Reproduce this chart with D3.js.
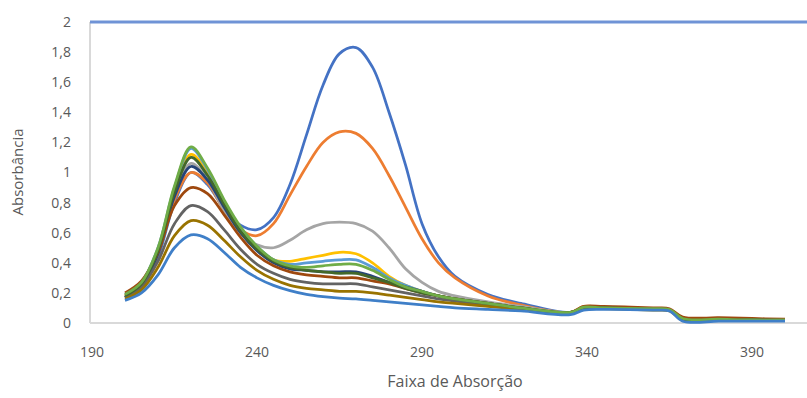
<!DOCTYPE html>
<html>
<head>
<meta charset="utf-8">
<script src="https://cdn.jsdelivr.net/npm/d3@7"></script>
<style>
  body { margin: 0; background: #fff; }
  svg { display: block; }
  text { font-family: "Open Sans", "Noto Sans", sans-serif; fill: #595959; }
</style>
</head>
<body>
<svg id="chart" width="807" height="398"></svg>
<script>
// wavelengths (nm) shared by all spectra
const wavelengths = [200, 205, 210, 215, 220, 225, 230, 235, 240, 245, 250, 255, 260, 265, 270, 275, 280, 285, 290, 295, 300, 310, 320, 335, 339, 345, 360, 365, 369, 380, 390, 400]

const sBlue      = [.17, .24, .44, .80, 1.00, .92, .76, .65, .62, .70, .92, 1.25, 1.58, 1.79, 1.83, 1.70, 1.40, 1.05, .66, .44, .31, .19, .13, .07, .10, .10, .09, .085, .03, .025, .02, .02]
const sOrange    = [.18, .25, .46, .82, 1.00, .93, .75, .62, .58, .66, .85, 1.04, 1.20, 1.27, 1.26, 1.16, .98, .77, .56, .40, .30, .18, .12, .07, .11, .105, .095, .09, .035, .03, .025, .02]
const sGray      = [.17, .25, .47, .85, 1.06, .95, .75, .60, .52, .50, .55, .62, .66, .67, .66, .61, .50, .36, .27, .21, .18, .14, .11, .07, .10, .10, .09, .085, .03, .025, .02, .02]
const sYellow    = [.18, .26, .49, .88, 1.12, 1.00, .80, .62, .50, .42, .41, .43, .45, .47, .46, .40, .31, .25, .21, .18, .16, .13, .10, .07, .10, .10, .095, .09, .03, .028, .024, .02]
const sLightBlue = [.19, .27, .50, .90, 1.16, 1.02, .81, .63, .51, .42, .39, .40, .41, .42, .42, .37, .30, .25, .21, .18, .16, .13, .10, .07, .10, .10, .09, .085, .025, .02, .02, .018]
const sDarkBlue  = [.17, .25, .46, .84, 1.04, .95, .77, .60, .48, .40, .36, .35, .34, .34, .34, .31, .27, .24, .21, .18, .16, .13, .10, .065, .10, .10, .09, .085, .02, .018, .016, .015]
const sBrown     = [.20, .28, .47, .78, .90, .86, .72, .57, .45, .38, .34, .32, .31, .30, .30, .28, .26, .23, .20, .18, .16, .13, .10, .07, .11, .11, .10, .095, .04, .035, .03, .025]
const sDarkGray  = [.17, .24, .41, .66, .78, .74, .62, .49, .39, .33, .29, .27, .26, .26, .26, .24, .22, .20, .18, .16, .145, .12, .095, .065, .10, .10, .09, .085, .025, .02, .02, .018]
const sDarkYell  = [.16, .22, .37, .58, .68, .65, .55, .44, .35, .29, .25, .23, .22, .21, .21, .20, .185, .17, .155, .14, .13, .11, .09, .06, .095, .095, .085, .08, .02, .018, .016, .015]
const sDarkGreen = [.18, .26, .48, .87, 1.10, .98, .79, .61, .49, .41, .37, .35, .34, .33, .33, .30, .27, .23, .20, .18, .16, .13, .10, .07, .10, .10, .09, .085, .025, .02, .02, .018]
const sGreen     = [.19, .27, .50, .91, 1.17, 1.03, .82, .64, .51, .42, .38, .37, .38, .39, .39, .35, .29, .24, .21, .18, .16, .13, .10, .07, .105, .10, .095, .09, .03, .025, .02, .02]
const sLowest    = [.15, .20, .32, .50, .585, .56, .47, .37, .30, .25, .215, .19, .175, .165, .16, .15, .14, .13, .12, .11, .10, .09, .08, .055, .085, .09, .085, .08, .012, .012, .012, .012]

// saturated sample, off the scale over the whole range
const satWave = [189.4, 420]
const satValues = [2, 2]

const series = [
  { values: sBlue, color: '#4472C4' },
  { values: sOrange, color: '#ED7D31' },
  { values: sGray, color: '#A5A5A5' },
  { values: sYellow, color: '#FFC000' },
  { values: sLightBlue, color: '#5B9BD5' },
  { values: sDarkBlue, color: '#264478' },
  { values: sBrown, color: '#9E480E' },
  { values: sDarkGray, color: '#636363' },
  { values: sDarkYell, color: '#997300' },
  { values: sDarkGreen, color: '#43682B' },
  { values: sGreen, color: '#70AD47' },
  { values: sLowest, color: '#3F7FC8' }
]

const xTicks = [190, 240, 290, 340, 390]
const yTicks = [0, 0.2, 0.4, 0.6, 0.8, 1, 1.2, 1.4, 1.6, 1.8, 2]

const svg = d3.select('#chart')
const plotLeft = 90, plotTop = 22, plotBottom = 323

const x = d3.scaleLinear().domain([190, 410]).range([92, 818])
const y = d3.scaleLinear().domain([0, 2]).range([plotBottom, plotTop])

const fmt = (v) => String(+v.toFixed(1)).replace('.', ',')

// axis lines
svg.append('line')
  .attr('x1', plotLeft).attr('x2', plotLeft)
  .attr('y1', plotTop).attr('y2', plotBottom)
  .attr('stroke', '#D9D9D9').attr('stroke-width', 2)
svg.append('line')
  .attr('x1', plotLeft).attr('x2', 807)
  .attr('y1', plotBottom).attr('y2', plotBottom)
  .attr('stroke', '#D9D9D9').attr('stroke-width', 2)

// tick labels
svg.selectAll('.ytick').data(yTicks).enter().append('text')
  .attr('class', 'ytick')
  .attr('x', 71).attr('y', (d) => y(d))
  .attr('dy', '0.35em')
  .attr('text-anchor', 'end')
  .attr('font-size', 14)
  .text(fmt)

svg.selectAll('.xtick').data(xTicks).enter().append('text')
  .attr('class', 'xtick')
  .attr('x', (d) => x(d)).attr('y', 352)
  .attr('dy', '0.35em')
  .attr('text-anchor', 'middle')
  .attr('font-size', 14)
  .text((d) => d)

// axis titles
svg.append('text')
  .attr('transform', 'translate(23,172) rotate(-90)')
  .attr('text-anchor', 'middle')
  .attr('font-size', 15)
  .text('Absorbância')
svg.append('text')
  .attr('x', 455).attr('y', 387)
  .attr('text-anchor', 'middle')
  .attr('font-size', 16)
  .text('Faixa de Absorção')

// lines
const line = d3.line()
  .x((d) => x(d[0]))
  .y((d) => y(d[1]))
  .curve(d3.curveCatmullRom.alpha(0.5))

svg.append('path')
  .attr('d', line(satWave.map((w, i) => [w, satValues[i]])))
  .attr('fill', 'none')
  .attr('stroke', '#6F93D6')
  .attr('stroke-width', 3)

svg.selectAll('.spec').data(series).enter().append('path')
  .attr('class', 'spec')
  .attr('d', (s) => line(wavelengths.map((w, i) => [w, s.values[i]])))
  .attr('fill', 'none')
  .attr('stroke', (s) => s.color)
  .attr('stroke-width', 2.75)
  .attr('stroke-linejoin', 'round')
</script>
</body>
</html>
